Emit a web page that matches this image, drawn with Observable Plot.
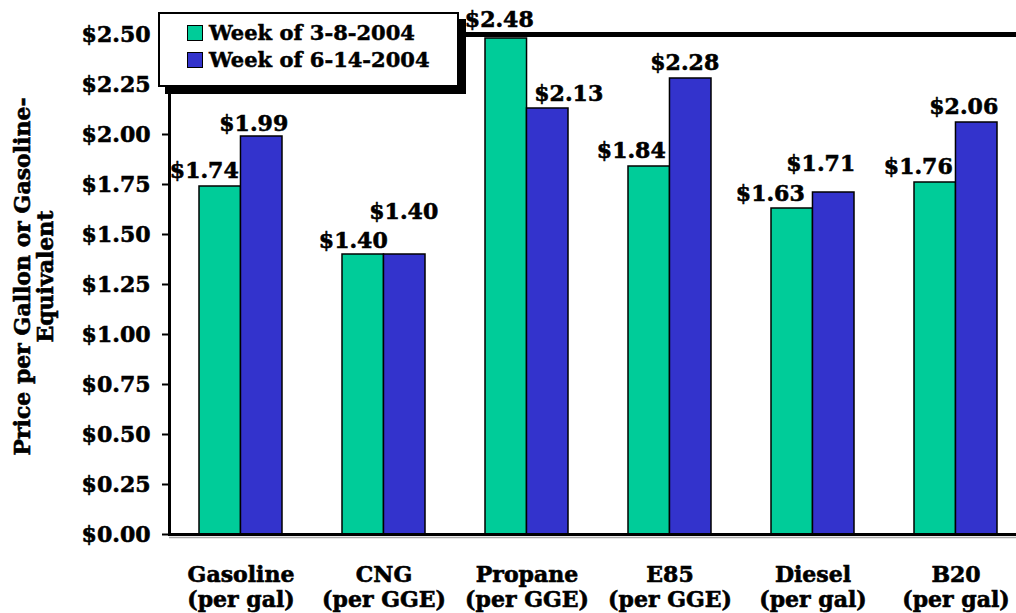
<!DOCTYPE html>
<html>
<head>
<meta charset="utf-8">
<script src="https://cdn.jsdelivr.net/npm/d3@7"></script>
<script src="https://cdn.jsdelivr.net/npm/@observablehq/plot@0.6"></script>
<style>
  html, body { margin: 0; padding: 0; background: #fff; overflow: hidden; }
  #wrap { position: relative; width: 1016px; height: 613px; }
  #wrap svg text { stroke: #000; stroke-width: 0.6px; }
  #legend {
    position: absolute; left: 158px; top: 12px; width: 297px; height: 66px;
    border: 2px solid #000; background: #fff; box-shadow: 7px 7px 0 #000;
    font: bold 21px "DejaVu Serif", serif; color: #000; box-sizing: content-box;
    padding-top: 5px; -webkit-text-stroke: 0.5px #000;
  }
  #legend .row { height: 27px; line-height: 27px; padding-left: 27px; white-space: nowrap; }
  #legend .sw { display: inline-block; width: 14px; height: 14px; border: 1.5px solid #000;
    margin-right: 6px; vertical-align: -1px; }
</style>
</head>
<body>
<div id="wrap"></div>
<script>
// ---- data ----
const categories = ["Gasoline", "CNG", "Propane", "E85", "Diesel", "B20"];
const units = ["(per gal)", "(per GGE)", "(per GGE)", "(per GGE)", "(per gal)", "(per gal)"];
const seriesNames = ["Week of 3-8-2004", "Week of 6-14-2004"];
const week1 = [1.74, 1.40, 2.48, 1.84, 1.63, 1.76];
const week2 = [1.99, 1.40, 2.13, 2.28, 1.71, 2.06];
const yTicks = [0, 0.25, 0.5, 0.75, 1, 1.25, 1.5, 1.75, 2, 2.25, 2.5];
const colors = ["#00CC99", "#3333CC"];
const yTitle = "Price per Gallon or Gasoline-\nEquivalent";

// ---- layout (pixels) ----
const W = 1016, H = 613;
const mLeft = 169, mTop = 34, mBottom = 79;
const xRange = [169, 1027];          // plot area continues past the right edge
const padInner = 0.42, padOuter = 0.21;
const step = (xRange[1] - xRange[0]) / categories.length;
const bw = step * (1 - padInner);
const fs = 22;
// label offsets [dx from bar centre, baseline offset from bar top]
const nudge1 = [[-16, -9], [-10, -7], [-7, -12], [-18, -9], [-22, -8], [-17, -9]];
const nudge2 = [[-8, -6], [-1, -36], [21, -8], [-6, -9], [-13, -22], [-13, -9]];

const rows = categories.flatMap((c, i) => [
  {category: c, series: seriesNames[0], value: week1[i], k: 0, i},
  {category: c, series: seriesNames[1], value: week2[i], k: 1, i}
]);

const labelMarks = rows.map(d => {
  const n = d.k === 0 ? nudge1[d.i] : nudge2[d.i];
  const shift = d.k === 0 ? -bw / 4 : bw / 4;
  return Plot.text([d], {
    x: "category", y: "value", text: v => "$" + v.value.toFixed(2),
    dx: shift + n[0], dy: n[1] - 0.32 * fs, lineAnchor: "middle",
    fontSize: fs, fontWeight: "bold", fill: "black"
  });
});

const chart = Plot.plot({
  width: W, height: H,
  marginLeft: mLeft, marginRight: 0, marginTop: mTop, marginBottom: mBottom,
  style: {fontFamily: '"DejaVu Serif", serif', fontWeight: "bold", fontSize: fs + "px", background: "white", color: "black"},
  x: {domain: categories, range: xRange, paddingInner: padInner, paddingOuter: padOuter, label: null},
  y: {domain: [0, 2.5], label: null},
  color: {domain: seriesNames, range: colors},
  marks: [
    Plot.barY(rows.filter(d => d.k === 0), {x: "category", y: "value", fill: "series", stroke: "black", strokeWidth: 1.5, insetLeft: 0, insetRight: bw / 2}),
    Plot.barY(rows.filter(d => d.k === 1), {x: "category", y: "value", fill: "series", stroke: "black", strokeWidth: 1.5, insetLeft: bw / 2, insetRight: 0}),
    Plot.ruleY([0], {stroke: "#aaa", strokeWidth: 1.5, dy: 3}),
    Plot.ruleY([0], {stroke: "black", strokeWidth: 3}),
    Plot.ruleY([2.5], {stroke: "black", strokeWidth: 5}),
    Plot.frame({anchor: "left", stroke: "black", strokeWidth: 3}),
    Plot.axisY({ticks: yTicks, tickSize: 7, tickPadding: 12, strokeWidth: 2,
      tickFormat: d => "$" + d.toFixed(2), fontSize: fs, label: null}),
    Plot.axisX({tickSize: 0, tickPadding: 30, lineHeight: 1.12, fontSize: fs, label: null,
      tickFormat: d => d + "\n" + units[categories.indexOf(d)]}),
    Plot.text([yTitle], {frameAnchor: "left", text: d => d, rotate: -90, dx: -135.5, dy: -8,
      textAnchor: "middle", lineHeight: 1.05, fontSize: fs, fontWeight: "bold", lineAnchor: "middle"}),
    ...labelMarks
  ]
});

const wrap = document.getElementById("wrap");
wrap.appendChild(chart);

// legend built from the plot's colour scale
const colorScale = chart.scale("color");
const legend = document.createElement("div");
legend.id = "legend";
colorScale.domain.forEach((name, i) => {
  const row = document.createElement("div");
  row.className = "row";
  const sw = document.createElement("span");
  sw.className = "sw";
  sw.style.background = colorScale.range[i];
  row.appendChild(sw);
  row.appendChild(document.createTextNode(name));
  legend.appendChild(row);
});
wrap.appendChild(legend);
</script>
</body>
</html>
